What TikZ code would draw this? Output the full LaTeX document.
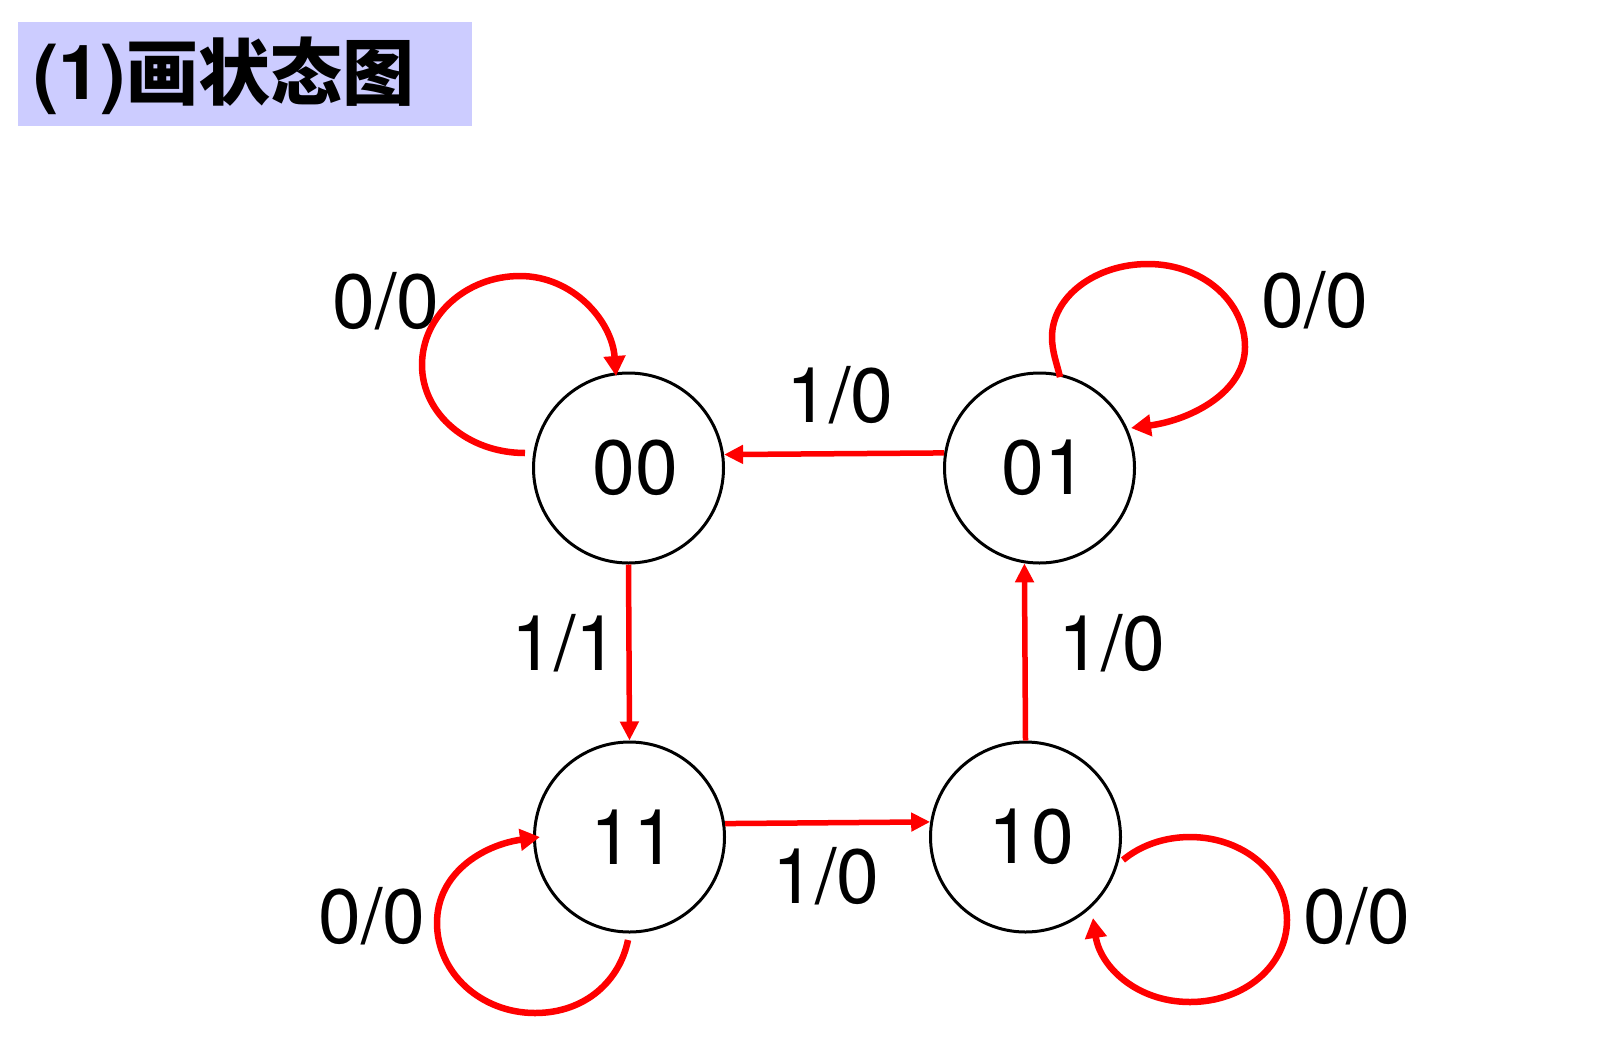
\documentclass[tikz,border=0pt]{standalone}
\usepackage{fontspec}
\setmainfont{TeX Gyre Heros}
\newfontfamily\cjkfont{Noto Sans CJK SC}
\usetikzlibrary{arrows.meta}
\definecolor{titlebg}{RGB}{204,204,255}
\definecolor{edgered}{RGB}{255,0,0}
\begin{document}
\begin{tikzpicture}[x=1pt,y=-1pt,
  state/.style={circle,draw=black,line width=3pt,minimum size=190pt,inner sep=0pt,
    font=\fontsize{77}{80}\selectfont},
  lbl/.style={inner sep=0pt,font=\fontsize{77}{80}\selectfont},
  trans/.style={draw=edgered,line width=5.5pt,-{Triangle[length=19pt,width=18pt]}},
  selfloop/.style={draw=edgered,line width=6.5pt,-{Triangle[length=20pt,width=21pt]}}]
\useasboundingbox (0,0) rectangle (1600,1058);
\fill[white] (0,0) rectangle (1600,1058);
% title
\fill[titlebg] (18,22) rectangle (472,126);
\node[anchor=west,inner sep=0pt] (title) at (33,76)
  {\bfseries\fontsize{76}{80}\selectfont (1)\cjkfont\fontsize{72}{80}\selectfont 画状态图};
% states
\node[state] (n00) at (628.5,468) {\kern13pt 00};
\node[state] (n01) at (1039.5,468) {\kern10pt 01};
\node[state] (n11) at (629.5,837) {\kern8pt 11};
\node[state] (n10) at (1025.5,837) {\kern12pt 10};
% transitions
\draw[trans] (n01.171.7) -- (n00.8.3);
\draw[trans] (n00.south) -- (n11.north);
\draw[trans] (n11.8.5) -- (n10.171.5);
\draw[trans] (n10.north) -- (n01.261.7);
% loop end points
\coordinate (l00s) at (525,453);
\coordinate (l00e) at (616,376);
\coordinate (l01s) at (1060,377);
\coordinate (l01e) at (1131,428);
\coordinate (l11s) at (628,940);
\coordinate (l11e) at (540,837);
\coordinate (l10s) at (1123,860);
\coordinate (l10e) at (1093,918);
% self loops
\draw[selfloop] (l00s) .. controls (468,453) and (422,414) .. (422,365)
  .. controls (422,316) and (466,276) .. (520,276)
  .. controls (573,276) and (612,321) .. (l00e);
\draw[selfloop] (l01s) .. controls (1057,364) and (1052,352) .. (1052,337)
  .. controls (1052,297) and (1095,264) .. (1148,264)
  .. controls (1202,264) and (1245,301) .. (1245,347)
  .. controls (1245,392) and (1191,420) .. (l01e);
\draw[selfloop] (l11s) .. controls (620,980) and (586,1013) .. (535,1013)
  .. controls (481,1013) and (437,973) .. (437,923)
  .. controls (437,873) and (483,845) .. (l11e);
\draw[selfloop] (l10s) .. controls (1141,845) and (1165,837) .. (1190,837)
  .. controls (1244,837) and (1287,874) .. (1287,920)
  .. controls (1287,966) and (1244,1002) .. (1190,1002)
  .. controls (1136,1002) and (1100,966) .. (l10e);
% labels
\node[lbl] (t1) at (840,395) {1/0};
\node[lbl] (t2) at (565,643) {1/1};
\node[lbl] (t3) at (1112,643) {1/0};
\node[lbl] (t4) at (826,876) {1/0};
\node[lbl] (s1) at (386,301) {0/0};
\node[lbl] (s2) at (1315,300) {0/0};
\node[lbl] (s3) at (372,916) {0/0};
\node[lbl] (s4) at (1357,916) {0/0};
\end{tikzpicture}
\end{document}
